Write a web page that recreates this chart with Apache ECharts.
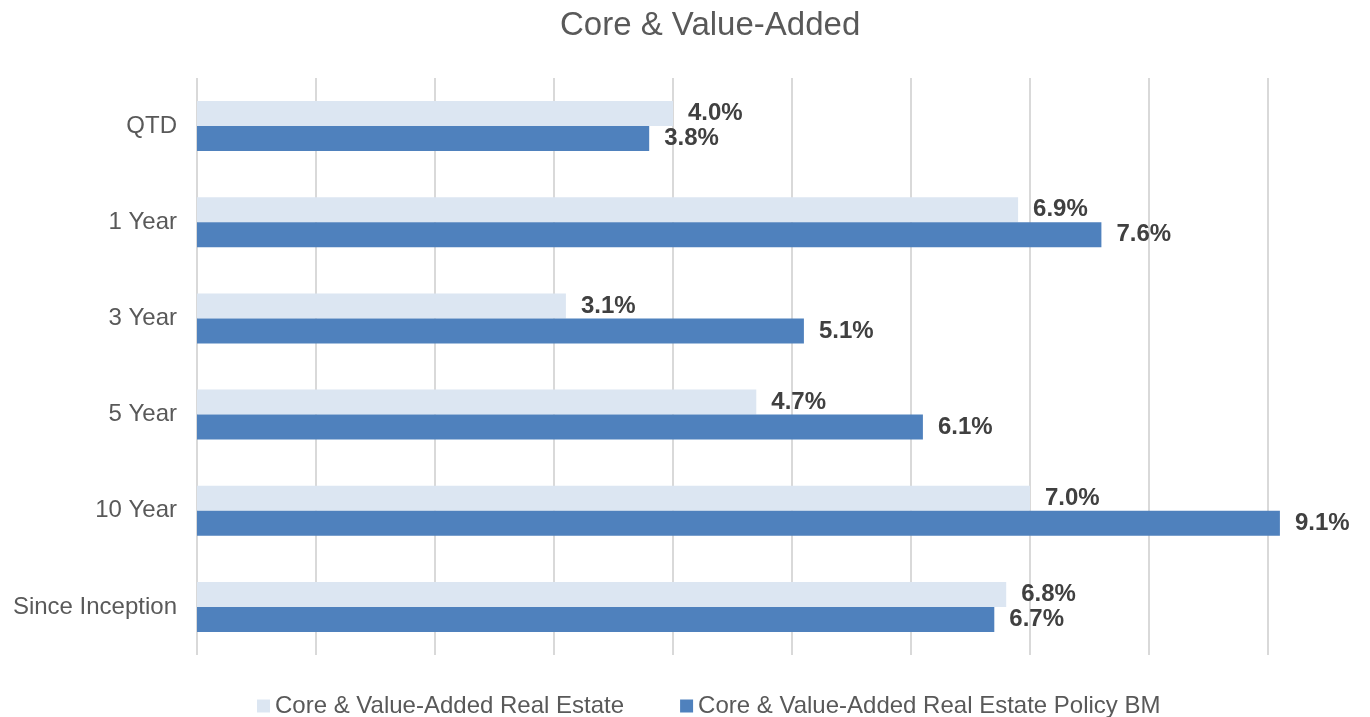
<!DOCTYPE html>
<html>
<head>
<meta charset="utf-8">
<script src="https://cdn.jsdelivr.net/npm/echarts@6/dist/echarts.min.js"></script>
<style>
  html, body { margin: 0; padding: 0; background: #fff; }
  #main { width: 1370px; height: 717px; }
</style>
</head>
<body>
<div id="main"></div>
<script>
// 数据
var categories = ["QTD", "1 Year", "3 Year", "5 Year", "10 Year", "Since Inception"];
var realEstate = [4.0, 6.9, 3.1, 4.7, 7.0, 6.8];
var policyBM = [3.8, 7.6, 5.1, 6.1, 9.1, 6.7];
var seriesNames = ["Core & Value-Added Real Estate", "Core & Value-Added Real Estate Policy BM"];

var font = "'Liberation Sans', Arial, sans-serif";

function labelStyle() {
  return {
    show: true,
    position: "right",
    distance: 15,
    fontFamily: font,
    fontSize: 24,
    fontWeight: "bold",
    color: "#404040",
    formatter: function (p) {
      return p.value.toFixed(1) + "%";
    },
  };
}

var myChart = echarts.init(document.getElementById("main"));
myChart.setOption({
  animation: false,
  title: {
    text: "Core & Value-Added",
    left: 555,
    top: 4,
    textStyle: { fontFamily: font, fontSize: 33, fontWeight: "normal", color: "#595959" },
  },
  legend: {
    top: 689,
    left: 252,
    itemWidth: 13,
    itemHeight: 13,
    itemGap: 56,
    icon: "rect",
    textStyle: { fontFamily: font, fontSize: 24, color: "#595959" },
    data: seriesNames,
  },
  grid: {
    left: 197,
    right: 102,
    top: 78,
    bottom: 62,
  },
  xAxis: {
    type: "value",
    min: 0,
    max: 9,
    interval: 1,
    axisLabel: { show: false },
    axisLine: { show: false },
    axisTick: { show: false },
    splitLine: { lineStyle: { color: "#d9d9d9", width: 2 } },
  },
  yAxis: {
    type: "category",
    inverse: true,
    data: categories,
    axisLine: { show: false },
    axisTick: { show: false },
    axisLabel: { fontFamily: font, fontSize: 24, color: "#595959", margin: 20 },
  },
  series: [
    {
      name: seriesNames[0],
      type: "bar",
      data: realEstate,
      barWidth: 25,
      barGap: "0%",
      clip: false,
      itemStyle: { color: "#dce6f2" },
      label: labelStyle(),
    },
    {
      name: seriesNames[1],
      type: "bar",
      data: policyBM,
      barWidth: 25,
      barGap: "0%",
      clip: false,
      itemStyle: { color: "#4f81bd" },
      label: labelStyle(),
    },
  ],
});
</script>
</body>
</html>
